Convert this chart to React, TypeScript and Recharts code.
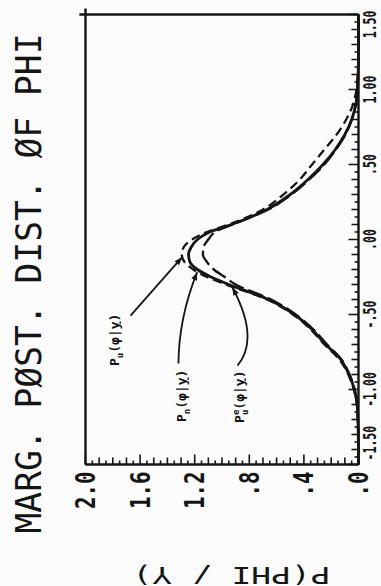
import React from 'react';
import { LineChart, Line, XAxis, YAxis, ReferenceLine } from 'recharts';

// ---- data ----
const PHI = [-1.5, -1.4, -1.3, -1.2, -1.1, -1.0, -0.9, -0.8, -0.7, -0.6, -0.5, -0.4, -0.3, -0.25, -0.2, -0.15, -0.1, -0.05, 0, 0.05, 0.1, 0.2, 0.3, 0.4, 0.5, 0.6, 0.7, 0.8, 0.9, 1.0, 1.1, 1.2, 1.3, 1.4, 1.5];
const P_N = [0, 0, 0.002, 0.004, 0.01, 0.03, 0.07, 0.13, 0.24, 0.34, 0.47, 0.66, 0.95, 1.08, 1.18, 1.235, 1.245, 1.225, 1.18, 1.09, 0.93, 0.67, 0.5, 0.37, 0.26, 0.17, 0.1, 0.05, 0.02, 0.008, 0.003, 0, 0, 0, 0];
const P_U = [0, 0, 0.002, 0.005, 0.012, 0.035, 0.075, 0.14, 0.25, 0.35, 0.48, 0.67, 0.97, 1.11, 1.21, 1.275, 1.295, 1.28, 1.22, 1.11, 0.95, 0.7, 0.55, 0.43, 0.34, 0.25, 0.16, 0.09, 0.04, 0.015, 0.005, 0.001, 0, 0, 0];
const P_UE = [0, 0, 0.002, 0.004, 0.01, 0.028, 0.065, 0.125, 0.23, 0.33, 0.46, 0.64, 0.9, 0.98, 1.06, 1.11, 1.14, 1.135, 1.1, 1.05, 0.92, 0.66, 0.49, 0.36, 0.25, 0.165, 0.095, 0.048, 0.02, 0.008, 0.003, 0, 0, 0, 0];

const PHI_LABEL_VALUES = [-1.5, -1.0, -0.5, 0, 0.5, 1.0, 1.5];
const PHI_LABELS = ['-1.50', '-1.00', '-.50', '.00', '.50', '1.00', '1.50'];
const DENS_LABEL_VALUES = [0, 0.4, 0.8, 1.2, 1.6, 2.0];
const DENS_LABELS = ['.0', '.4', '.8', '1.2', '1.6', '2.0'];

const TITLE = 'MARG. PØST. DIST. ØF PHI';
const Y_LABEL = 'P(PHI / Y)';

// annotation leaders: [phi, density] start and end
const ANN_FROM = { pu: [-0.507, 1.67], pn: [-0.827, 1.319], pue: [-0.84, 0.886] };
const ANN_TO = { pu: [-0.118, 1.292], pn: [-0.218, 1.182], pue: [-0.318, 0.925] };

// minor tick positions (axis decoration)
const PHI_TICKS = Array.from({ length: 61 }, (_, i) => Math.round((-1.5 + i * 0.05) * 100) / 100);
const DENS_TICKS = Array.from({ length: 41 }, (_, i) => Math.round(i * 5) / 100);

const data = PHI.map((phi, i) => ({ phi, pn: P_N[i], pu: P_U[i], pue: P_UE[i] }));

// ---- styles ----
const INK = '#151515';
const BG = '#fbfbfb';
const MONO = '"DejaVu Sans Mono", monospace';
const W = 586;
const H = 381;

function PhiTick(props: any) {
  const { x, y, payload } = props;
  const v = payload.value;
  const li = PHI_LABEL_VALUES.findIndex((t) => Math.abs(t - v) < 1e-6);
  const k = Math.round(v * 20);
  const len = li >= 0 ? 10 : k % 2 === 0 ? 7 : 4;
  const last = PHI_LABEL_VALUES.length - 1;
  const anchor = li === 0 ? 'start' : li === last ? 'end' : 'middle';
  const dx = li === 0 || li === last ? 4 : 0;
  return (
    <g>
      <line x1={x} y1={y} x2={x} y2={y - len} stroke={INK} strokeWidth={1.6} />
      {li >= 0 && (
        <text
          transform={`translate(${x + dx},${y + 17.5}) scale(0.68,1)`}
          textAnchor={anchor}
          fontFamily={MONO}
          fontWeight="bold"
          fontSize={17}
          fill={INK}
        >
          {PHI_LABELS[li]}
        </text>
      )}
    </g>
  );
}

function DensTick(props: any) {
  const { x, y, payload } = props;
  const v = payload.value;
  const li = DENS_LABEL_VALUES.findIndex((t) => Math.abs(t - v) < 1e-6);
  const k = Math.round(v * 20);
  const len = li >= 0 ? 10 : k % 2 === 0 ? 7 : 4;
  return (
    <g>
      <line x1={x} y1={y} x2={x + len} y2={y} stroke={INK} strokeWidth={1.6} />
      {li >= 0 && (
        <text
          transform={`translate(${x - 7},${y + 9.5}) scale(0.8,1)`}
          textAnchor="end"
          fontFamily={MONO}
          fontWeight="bold"
          fontSize={26}
          fill={INK}
        >
          {DENS_LABELS[li]}
        </text>
      )}
    </g>
  );
}

function AnnText({ kind }: { kind: string }) {
  if (kind === 'pue') {
    return (
      <>
        P
        <tspan fontSize={9} dy={-5}>e</tspan>
        <tspan fontSize={9} dx={-5.4} dy={9}>u</tspan>
        <tspan dy={-4}>(φ|</tspan>
        <tspan style={{ textDecoration: 'underline' }}>y</tspan>
        <tspan>)</tspan>
      </>
    );
  }
  return (
    <>
      P
      <tspan fontSize={9} dy={4}>{kind === 'pu' ? 'u' : 'n'}</tspan>
      <tspan dy={-4}>(φ|</tspan>
      <tspan style={{ textDecoration: 'underline' }}>y</tspan>
      <tspan>)</tspan>
    </>
  );
}

const LEADER_STYLE: Record<string, { bend: [number, number]; lx: number; ly: number }> = {
  pu: { bend: [0, 0], lx: 2, ly: -12 },
  pn: { bend: [0, -4.5], lx: -6, ly: 8 },
  pue: { bend: [-6, 12.5], lx: -5, ly: 6 },
};

const makeLeader = (kind: string) => (p: any) => {
  const { x1, y1, x2, y2 } = p;
  const st = LEADER_STYLE[kind];
  const cx = (x1 + x2) / 2 + 2 * st.bend[0];
  const cy = (y1 + y2) / 2 + 2 * st.bend[1];
  let ux = x2 - cx;
  let uy = y2 - cy;
  const n = Math.hypot(ux, uy) || 1;
  ux /= n;
  uy /= n;
  const bx = x2 - ux * 8;
  const by = y2 - uy * 8;
  const px = -uy * 3;
  const py = ux * 3;
  return (
    <g>
      <path d={`M${x1},${y1} Q${cx},${cy} ${x2},${y2}`} fill="none" stroke={INK} strokeWidth={1.8} />
      <path d={`M${x2},${y2} L${bx + px},${by + py} L${bx - px},${by - py} Z`} fill={INK} />
      <text
        x={x1 + st.lx}
        y={y1 + st.ly}
        textAnchor="end"
        fontFamily={MONO}
        fontWeight="bold"
        fontSize={13}
        fill={INK}
      >
        <AnnText kind={kind} />
      </text>
    </g>
  );
};

export default function App() {
  return (
    <div style={{ position: 'absolute', left: 0, top: 0, width: 381, height: 586, overflow: 'hidden', background: BG }}>
      <div
        style={{
          position: 'absolute',
          left: (381 - W) / 2,
          top: (586 - H) / 2,
          width: W,
          height: H,
          transform: 'rotate(-90deg)',
        }}
      >
        <LineChart width={W} height={H} data={data} margin={{ top: 85, right: 14, bottom: 0, left: 0 }}>
          <XAxis
            dataKey="phi"
            type="number"
            domain={[-1.5, 1.5]}
            ticks={PHI_TICKS}
            interval={0}
            tickSize={0}
            tickMargin={0}
            height={23}
            axisLine={{ stroke: INK, strokeWidth: 2.4 }}
            tickLine={false}
            tick={(p: any) => <PhiTick {...p} />}
          />
          <YAxis
            type="number"
            domain={[0, 2]}
            ticks={DENS_TICKS}
            interval={0}
            tickSize={0}
            tickMargin={0}
            width={122}
            axisLine={{ stroke: INK, strokeWidth: 2.4 }}
            tickLine={false}
            tick={(p: any) => <DensTick {...p} />}
          />
          <ReferenceLine segment={[{ x: -1.5, y: 2 }, { x: 1.54, y: 2 }]} stroke={INK} strokeWidth={2.4} ifOverflow="visible" />
          <ReferenceLine segment={[{ x: 1.5, y: 0 }, { x: 1.5, y: 2.045 }]} stroke={INK} strokeWidth={2.4} ifOverflow="visible" />
          <Line dataKey="pue" type="monotone" stroke={INK} strokeWidth={2.3} strokeDasharray="16 5" dot={false} isAnimationActive={false} />
          <Line dataKey="pu" type="monotone" stroke={INK} strokeWidth={2.3} strokeDasharray="9 5" dot={false} isAnimationActive={false} />
          <Line dataKey="pn" type="monotone" stroke={INK} strokeWidth={2.8} dot={false} isAnimationActive={false} />
          {(['pu', 'pn', 'pue'] as const).map((k) => (
            <ReferenceLine
              key={k}
              segment={[
                { x: ANN_FROM[k][0], y: ANN_FROM[k][1] },
                { x: ANN_TO[k][0], y: ANN_TO[k][1] },
              ]}
              stroke={INK}
              ifOverflow="visible"
              shape={makeLeader(k)}
            />
          ))}
        </LineChart>
        <svg width={W} height={H} style={{ position: 'absolute', left: 0, top: 0, pointerEvents: 'none' }}>
          <text
            x={53}
            y={40}
            textLength={500}
            lengthAdjust="spacingAndGlyphs"
            fontFamily={MONO}
            fontSize={35}
            fill={INK}
          >
            {TITLE}
          </text>
          <text
            transform="translate(20,330) rotate(-90)"
            textLength={198}
            lengthAdjust="spacingAndGlyphs"
            fontFamily={MONO}
            fontSize={23}
            fill={INK}
          >
            {Y_LABEL}
          </text>
        </svg>
      </div>
    </div>
  );
}
